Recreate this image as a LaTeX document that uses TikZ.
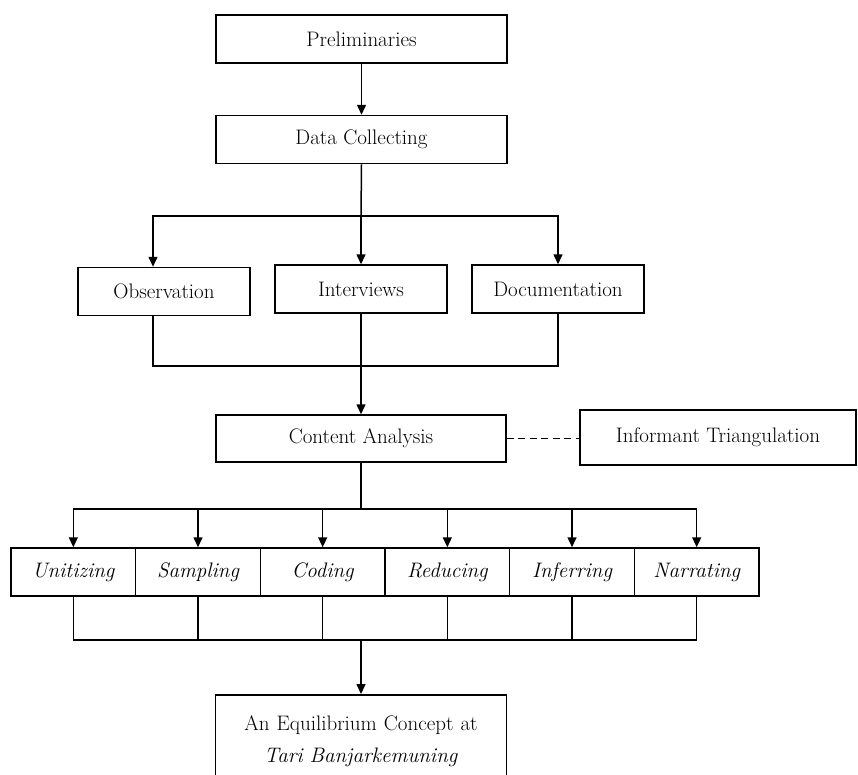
\documentclass[tikz,border=0pt]{standalone}
\usetikzlibrary{arrows.meta}
\begin{document}
\begin{tikzpicture}[x=1pt,y=-1pt,line width=1.5pt,
				box/.style={draw,rectangle,inner sep=0pt,font=\fontsize{21}{25}\selectfont},
				stage/.style={box,minimum width=291pt,minimum height=48pt},
				source/.style={box,minimum width=172pt,minimum height=48pt},
				cell/.style={box,minimum width=124.67pt,minimum height=48pt,font=\fontsize{21}{25}\selectfont\itshape},
				arr/.style={-{Triangle[length=10pt,width=9pt]}}]
\clip (0,0) rectangle (858,774);
\node[stage] (prelim) at (361.5,39) {Preliminaries};
\node[stage] (datacol) at (361.5,139.5) {Data Collecting};
\node[source] (obs) at (164,291.5) {Observation};
\node[source] (intv) at (361,289) {Interviews};
\node[source] (docu) at (558,289) {Documentation};
\node[box,minimum width=290pt,minimum height=47pt] (content) at (361,438.5) {Content Analysis};
\node[box,minimum width=276pt,minimum height=55pt] (triang) at (718,437.5) {Informant Triangulation};
\foreach \name/\txt [count=\i] in {unit/Unitizing,samp/Sampling,cod/Coding,redu/Reducing,infer/Inferring,narr/Narrating}
	\node[cell] (\name) at ({11+124.67*(\i-0.5)},572) {\txt};
\node[box,anchor=north,text width=270pt,align=center,inner xsep=10.5pt,inner ysep=20.5pt,
	font=\fontsize{21}{32}\selectfont] (final) at (361,694)
	{An Equilibrium Concept at\\ \textit{Tari Banjarkemuning}};
\coordinate (fork) at (361,216);
\coordinate (merge) at (361,366);
\coordinate (fork2) at (361,509);
\coordinate (merge2) at (361,640);
\draw[arr] (prelim) -- (datacol);
\draw (datacol.south) -- (fork);
\draw[arr] (fork) -| ([xshift=-11pt]obs.north);
\draw[arr] (fork) -- (intv.north);
\draw[arr] (fork) -| (docu.north);
\draw ([xshift=-11pt]obs.south) |- (merge);
\draw (docu.south) |- (merge);
\draw[arr] (intv.south) -- (content.north);
\draw[dashed,dash pattern=on 7pt off 4.5pt] (content.east) -- (content.east -| triang.west);
\draw (content.south) -- (fork2);
\foreach \n in {unit,samp,cod,redu,infer,narr} {
	\draw[arr] (fork2) -| (\n.north);
	\draw (\n.south) |- (merge2);
}
\draw[arr] (merge2) -- (final.north);
\end{tikzpicture}
\end{document}
